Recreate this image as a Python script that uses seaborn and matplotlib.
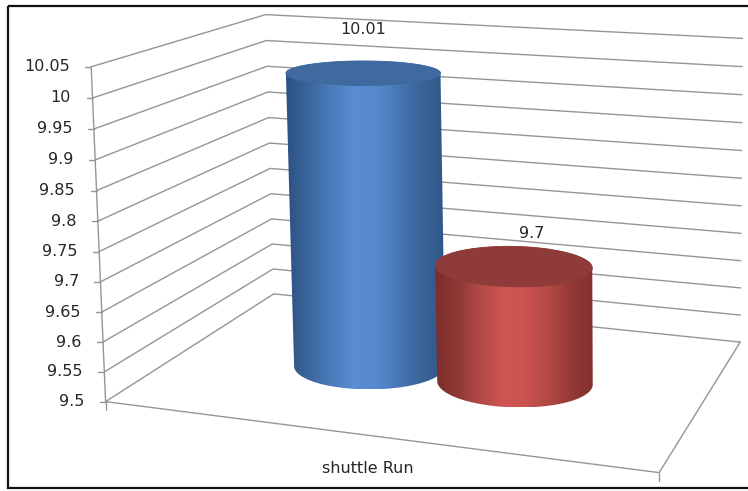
import numpy as np
import matplotlib
matplotlib.use("Agg")
import matplotlib.pyplot as plt
import seaborn as sns
from matplotlib.patches import Polygon, Rectangle

categories = ["shuttle Run"]
series_values = [10.01, 9.7]
value_labels = ["10.01", "9.7"]
value_ticks = [9.5, 9.55, 9.6, 9.65, 9.7, 9.75, 9.8, 9.85, 9.9, 9.95, 10.0, 10.05]
tick_labels = ["9.5", "9.55", "9.6", "9.65", "9.7", "9.75", "9.8", "9.85",
               "9.9", "9.95", "10", "10.05"]

V_MIN, V_MAX = 9.5, 10.05
W, H = 748, 491

# cylinder shading: edge -> highlight -> edge
SIDE_SHADES = [
    ["#2c5182", "#3b669d", "#4b7cbb", "#5a8dd1", "#5589cc", "#4676b2", "#3a6398", "#2f5687"],
    ["#7c2d2b", "#8f3835", "#b24a47", "#cf5552", "#cb5350", "#b24946", "#953a37", "#823230"],
]
TOP_SHADES = ["#3e6a9f", "#8e3b39"]

# layout of the 3-D box: corners (u across, d into depth, z up) and their canvas position
BOX_3D = [(0, 0, 0), (0, 0, 1), (0, 1, 0), (0, 1, 1), (1, 1, 0), (1, 1, 1), (1, 0, 0)]
BOX_PX = [(106, 401), (90, 68), (273, 294), (267, 14), (740, 343), (742, 38), (660, 472)]
GAP_WIDTH = 1.5          # gap between clusters, as a fraction of one column width
CLUSTER_SHIFT = 0.01     # small sideways nudge of the column cluster
DEPTH_CENTER = 0.48      # where the column row sits in depth
DEPTH_RADIUS = 0.19      # column radius measured along the depth axis
LABEL_OFFSETS = [(0, 43), (18, 32)]   # data-label offset from the top centre, in pixels
FONT_SIZE = 11.5


def fit_projection():
    rows = []
    for (X, Y, Z), (x, y) in zip(BOX_3D, BOX_PX):
        x, y = x / 1000.0, y / 1000.0
        rows.append([X, Y, Z, 1, 0, 0, 0, 0, -x * X, -x * Y, -x * Z, -x])
        rows.append([0, 0, 0, 0, X, Y, Z, 1, -y * X, -y * Y, -y * Z, -y])
    _, _, vt = np.linalg.svd(np.array(rows, float))
    P = vt[-1].reshape(3, 4)
    P[:2] *= 1000.0
    return P


P = fit_projection()


def zval(v):
    return (np.asarray(v, float) - V_MIN) / (V_MAX - V_MIN)


def project(u, d, z):
    u, d, z = np.broadcast_arrays(np.asarray(u, float), np.asarray(d, float), np.asarray(z, float))
    h = P @ np.vstack([u.ravel(), d.ravel(), z.ravel(), np.ones(u.size)])
    return h[0] / h[2], h[1] / h[2]


def convex_hull(pts):
    pts = sorted(set(map(tuple, np.round(pts, 3))))

    def cross(o, a, b):
        return (a[0] - o[0]) * (b[1] - o[1]) - (a[1] - o[1]) * (b[0] - o[0])

    lower, upper = [], []
    for p in pts:
        while len(lower) >= 2 and cross(lower[-2], lower[-1], p) <= 0:
            lower.pop()
        lower.append(p)
    for p in reversed(pts):
        while len(upper) >= 2 and cross(upper[-2], upper[-1], p) <= 0:
            upper.pop()
        upper.append(p)
    return np.array(lower[:-1] + upper[:-1])


def draw_cylinder(ax, uc, dc, ru, rd, z0, z1, shades, top_color, zorder):
    th = np.linspace(0, 2 * np.pi, 240, endpoint=False)
    bx, by = project(uc + ru * np.cos(th), dc + rd * np.sin(th), z0)
    tx, ty = project(uc + ru * np.cos(th), dc + rd * np.sin(th), z1)
    hull = convex_hull(np.column_stack([np.r_[bx, tx], np.r_[by, ty]]))
    side = Polygon(hull, closed=True, facecolor="none", edgecolor="none", zorder=zorder)
    ax.add_patch(side)
    cmap = sns.blend_palette(shades, as_cmap=True)
    grad = np.linspace(0, 1, 400)[None, :]
    x0, x1 = hull[:, 0].min(), hull[:, 0].max()
    y0, y1 = hull[:, 1].min(), hull[:, 1].max()
    im = ax.imshow(grad, cmap=cmap, extent=(x0, x1, y1, y0), aspect="auto",
                   interpolation="bilinear", zorder=zorder)
    im.set_clip_path(side)
    ax.add_patch(Polygon(np.column_stack([tx, ty]), closed=True, facecolor=top_color,
                         edgecolor=top_color, lw=0.6, zorder=zorder + 0.1))
    cx, cy = project(uc, dc, z1)
    return cx[0], cy[0]


sns.set_theme(style="white")
plt.rcParams["font.family"] = ["DejaVu Sans"]
TEXT = "#262626"
GRID = "#959595"

fig = plt.figure(figsize=(W / 100, H / 100), dpi=100)
ax = fig.add_axes([0, 0, 1, 1])

# outer frame
ax.add_patch(Rectangle((8, 6), 800, 482, fill=False, edgecolor="#111111", lw=1.6, zorder=1))

# wall gridlines: side wall then back wall
for v in value_ticks:
    z = zval(v)
    xs, ys = project([0, 0, 1], [0, 1, 1], [z, z, z])
    ax.plot(xs, ys, color=GRID, lw=1.0, zorder=2)

# floor outline
xs, ys = project([0, 1, 1], [0, 0, 1], [0, 0, 0])
ax.plot(xs, ys, color=GRID, lw=1.0, zorder=2)

# value axis line, ticks and labels
xs, ys = project([0, 0], [0, 0], [0, 1])
ax.plot(xs, ys, color=GRID, lw=1.0, zorder=2)
for v, lab in zip(value_ticks, tick_labels):
    x, y = project(0, 0, zval(v))
    ax.plot([x[0] - 6, x[0]], [y[0], y[0]], color=GRID, lw=1.0, zorder=2)
    ax.text(x[0] - 21.5, y[0], lab, ha="right", va="center", fontsize=FONT_SIZE, color=TEXT)

# category axis ticks and label
for u in (0, 1):
    x, y = project(u, 0, 0)
    ax.plot([x[0], x[0]], [y[0], y[0] + 8], color=GRID, lw=1.0, zorder=2)
x, y = project(0.5, 0, 0)
ax.text(x[0], y[0] + 33, categories[0], ha="center", va="center", fontsize=FONT_SIZE, color=TEXT)

# cylinders, one per series, clustered within the category
n = len(series_values)
col_w = 1.0 / (n + GAP_WIDTH)
for i, (val, lab) in enumerate(zip(series_values, value_labels)):
    uc = GAP_WIDTH / 2 * col_w + (i + 0.5) * col_w + CLUSTER_SHIFT
    cx, cy = draw_cylinder(ax, uc, DEPTH_CENTER, col_w / 2, DEPTH_RADIUS,
                           zval(V_MIN), zval(val), SIDE_SHADES[i], TOP_SHADES[i], 3 + i)
    dx, dy = LABEL_OFFSETS[i]
    ax.text(cx + dx, cy - dy, lab, ha="center", va="center", fontsize=FONT_SIZE, color=TEXT, zorder=6)

ax.set_xlim(0, W)
ax.set_ylim(H, 0)
ax.axis("off")

fig.savefig("out.png", dpi=100)
